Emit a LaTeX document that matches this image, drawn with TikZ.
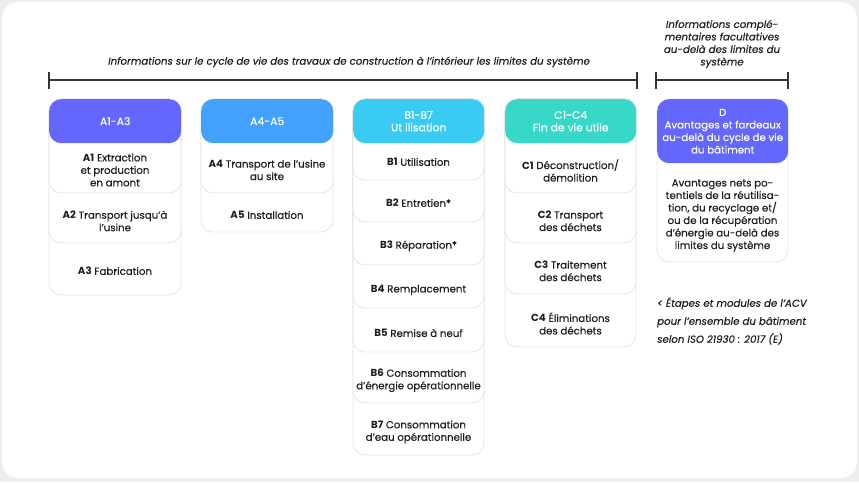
\documentclass[tikz,border=0pt]{standalone}
\usepackage{fontspec}
\setmainfont{Poppins}[UprightFeatures={FakeBold=0.35},ItalicFeatures={FakeBold=0.35}]
\definecolor{bggray}{HTML}{EEEEEE}
\definecolor{cellgray}{HTML}{E6E6E6}
\definecolor{txtdark}{HTML}{1E1E1E}
\definecolor{hdrA}{HTML}{6467FC}
\definecolor{hdrAB}{HTML}{42A1FB}
\definecolor{hdrB}{HTML}{3ACBF2}
\definecolor{hdrC}{HTML}{38D8C9}
\definecolor{hdrD}{HTML}{6467FC}
\tikzset{
  cell/.style={draw=cellgray, fill=white, line width=0.8pt, rounded corners=12pt},
  hdr/.style={rounded corners=12pt, text=white, align=center, anchor=north west,
    minimum width=132pt, inner sep=0pt, font=\fontsize{10.8}{12.5}\selectfont},
  txt/.style={align=center, text=txtdark, inner sep=0pt, font=\fontsize{10.2}{12.5}\selectfont},
  ttl/.style={align=center, text=txtdark, inner sep=0pt, font=\fontsize{10.2}{12.5}\selectfont\itshape},
  brk/.style={draw=txtdark!90, line width=1.4pt}
}
\begin{document}
\begin{tikzpicture}[x=1pt,y=-1pt]
\useasboundingbox (0,0) rectangle (859,482);
\fill[bggray] (0,0) rectangle (859,482);
\fill[white, rounded corners=16pt] (2,2) rectangle (857,478);

% titles
\node[ttl] (t1) at (349,62) {Informations sur le cycle de vie des travaux de construction à l’intérieur les limites du système};
\node[ttl] (t2) at (722,44) {Informations complé-\\mentaires facultatives\\au-delà des limites du\\système};

% brackets
\coordinate (b1l) at (49,80); \coordinate (b1r) at (637,80);
\coordinate (b1lt) at (49,72); \coordinate (b1lb) at (49,89);
\coordinate (b1rt) at (637,72); \coordinate (b1rb) at (637,89);
\coordinate (b2l) at (656,80); \coordinate (b2r) at (788,80);
\coordinate (b2lt) at (656,72); \coordinate (b2lb) at (656,89);
\coordinate (b2rt) at (788,72); \coordinate (b2rb) at (788,89);
\draw[brk] (b1l) -- (b1r); \draw[brk] (b1lt) -- (b1lb); \draw[brk] (b1rt) -- (b1rb);
\draw[brk] (b2l) -- (b2r); \draw[brk] (b2lt) -- (b2lb); \draw[brk] (b2rt) -- (b2rb);

% column A1-A3
\draw[cell] (49,99) rectangle (181,295);
\draw[cell] (49,99) rectangle (181,243);
\draw[cell] (49,99) rectangle (181,193);
\node[hdr, fill=hdrA, minimum height=44pt] (hA) at (49,99) {A1-A3};
\node[txt] (a1) at (115,170) {\textbf{A1} Extraction\\et production\\en amont};
\node[txt] (a2) at (115,221) {\textbf{A2} Transport jusqu’à\\l’usine};
\node[txt] (a3) at (115,271) {\textbf{A3} Fabrication};

% column A4-A5
\draw[cell] (201,99) rectangle (333,232);
\draw[cell] (201,99) rectangle (333,193);
\node[hdr, fill=hdrAB, minimum height=44pt] (hAB) at (201,99) {A4-A5};
\node[txt] (a4) at (267,170) {\textbf{A4} Transport de l’usine\\au site};
\node[txt] (a5) at (267,215) {\textbf{A5} Installation};

% column B1-B7
\draw[cell] (353,99) rectangle (484,455);
\draw[cell] (353,99) rectangle (484,403);
\draw[cell] (353,99) rectangle (484,352);
\draw[cell] (353,99) rectangle (484,308);
\draw[cell] (353,99) rectangle (484,265);
\draw[cell] (353,99) rectangle (484,222);
\draw[cell] (353,99) rectangle (484,180);
\node[hdr, fill=hdrB, minimum width=131pt, minimum height=44pt] (hB) at (353,99) {B1-B7\\Ut ilisation};
\node[txt] (b1) at (418.5,162) {\textbf{B1} Utilisation};
\node[txt] (b2) at (418.5,203) {\textbf{B2} Entretien*};
\node[txt] (b3) at (418.5,246) {\textbf{B3} Réparation*};
\node[txt] (b4) at (418.5,290) {\textbf{B4} Remplacement};
\node[txt] (b5) at (418.5,333) {\textbf{B5} Remise à neuf};
\node[txt] (b6) at (418.5,380.5) {\textbf{B6} Consommation\\d’énergie opérationnelle};
\node[txt] (b7) at (418.5,432) {\textbf{B7} Consommation\\d’eau opérationnelle};

% column C1-C4
\draw[cell] (505,99) rectangle (636,347);
\draw[cell] (505,99) rectangle (636,294);
\draw[cell] (505,99) rectangle (636,243);
\draw[cell] (505,99) rectangle (636,193);
\node[hdr, fill=hdrC, minimum width=131pt, minimum height=44pt] (hC) at (505,99) {C1-C4\\Fin de vie utile};
\node[txt] (c1) at (570.5,170.5) {\textbf{C1} Déconstruction/\\démolition};
\node[txt] (c2) at (570.5,221) {\textbf{C2} Transport\\des déchets};
\node[txt] (c3) at (570.5,271) {\textbf{C3} Traitement\\des déchets};
\node[txt] (c4) at (570.5,323.5) {\textbf{C4} Éliminations\\des déchets};

% column D
\draw[cell] (657,99) rectangle (788,262);
\node[hdr, fill=hdrD, minimum width=131pt, minimum height=64pt, font=\fontsize{10.2}{12.5}\selectfont] (hD) at (657,99) {D\\Avantages et fardeaux\\au-delà du cycle de vie\\du bâtiment};
\node[txt] (d1) at (722.5,215.5) {Avantages nets po-\\tentiels de la réutilisa-\\tion, du recyclage et/\\ou de la récupération\\d’énergie au-delà des\\limites du système};

% footnote
\node[ttl, align=left, anchor=west, font=\fontsize{10.2}{18}\selectfont\itshape] (fn) at (657,321) {< Étapes et modules de l’ACV\\pour l’ensemble du bâtiment\\selon ISO 21930 : 2017 (E)};
\end{tikzpicture}
\end{document}
